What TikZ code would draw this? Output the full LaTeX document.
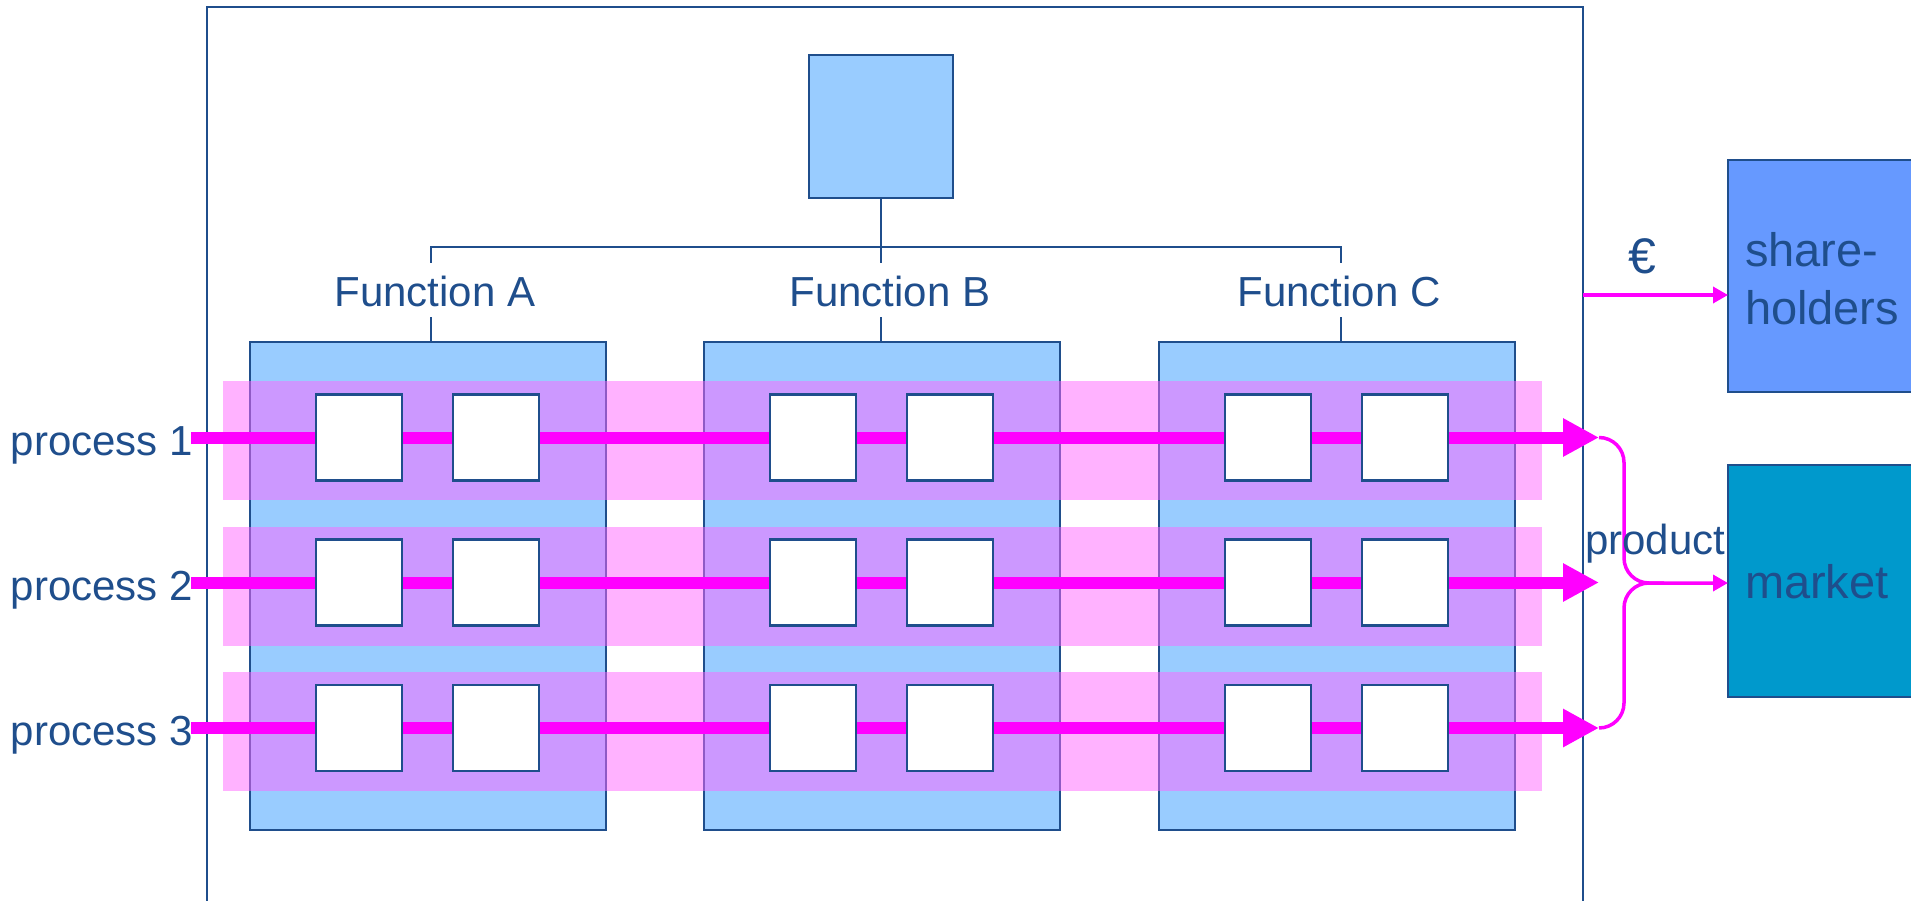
\documentclass[tikz,border=0pt]{standalone}
\usepackage{fontspec}
\setmainfont{Liberation Sans}
\usetikzlibrary{arrows.meta}
\definecolor{ink}{HTML}{1F4E8C}
\definecolor{fnblue}{HTML}{99CCFF}
\definecolor{bandpink}{HTML}{FF66FF}
\definecolor{flowpink}{HTML}{FF00FF}
\definecolor{shblue}{HTML}{6699FF}
\definecolor{mkblue}{HTML}{0099CC}
\begin{document}
\begin{tikzpicture}[x=1pt,y=-1pt,
  every node/.style={inner sep=0pt, outer sep=0pt},
  frame/.style={draw=ink, line width=2pt},
  headbox/.style={draw=ink, line width=2.5pt, fill=fnblue},
  fnbox/.style={draw=ink, line width=2.5pt, fill=fnblue, minimum width=356pt, minimum height=488pt},
  band/.style={fill=bandpink, fill opacity=0.5, minimum width=1319pt, minimum height=119pt},
  flow/.style={draw=flowpink, line width=12pt, -{Triangle[length=36pt,width=36pt]}},
  task/.style={draw=ink, fill=white, line width=2.5pt, minimum width=86pt, minimum height=86pt},
  conn/.style={draw=ink, line width=2pt},
  lbl/.style={text=ink, font=\fontsize{42pt}{50pt}\selectfont},
  big/.style={text=ink, font=\fontsize{47pt}{58pt}\selectfont},
  link/.style={draw=flowpink, line width=3.5pt},
  linkarrow/.style={link, -{Triangle[length=15pt,width=16pt]}}]
\useasboundingbox (0,0) rectangle (1911,901);

% company frame (open at the bottom)
\node[frame, minimum width=1376pt, minimum height=898pt] (frame) at (895,456) {};

% head of the organisation
\node[headbox, minimum width=144pt, minimum height=143pt] (top) at (881,126.5) {};

% function labels
\node[lbl, anchor=base] (la) at (435,306) {Function A};
\node[lbl, anchor=base] (lb) at (890,306) {Function B};
\node[lbl, anchor=base] (lc) at (1339,306) {Function C};

% function columns
\node[fnbox] (fA) at (428,586) {};
\node[fnbox] (fB) at (882,586) {};
\node[fnbox] (fC) at (1337,586) {};

% organisation chart connectors
\coordinate (busA) at (431,247);
\coordinate (busB) at (881,247);
\coordinate (busC) at (1341,247);
\draw[conn] (top.south) -- (top.south |- 0,263);
\draw[conn] (busA |- 0,263) -- (busA) -- (busC) -- (busC |- 0,263);
\draw[conn] (busA |- 0,317) -- (busA |- fA.north);
\draw[conn] (busB |- 0,317) -- (busB |- fB.north);
\draw[conn] (busC |- 0,317) -- (busC |- fC.north);

% process bands across the functions
\node[band] (band1) at (882.5,440.5) {};
\node[band] (band2) at (882.5,586.5) {};
\node[band] (band3) at (882.5,731.5) {};

% processes with their tasks
\foreach \r/\y in {1/437.5, 2/582.5, 3/728} {
  \coordinate (in\r) at (191,\y);
  \coordinate (out\r) at (1599,\y);
  \node[lbl, anchor=base east] (p\r) at (193,\y+17.5) {process \r};
  \draw[flow] (in\r) -- (out\r);
  \foreach \f/\x in {A/250, B/704, C/1159} {
    \node[task] (t\f\r a) at (\x+109,\y) {};
    \node[task] (t\f\r b) at (\x+246,\y) {};
  }
}

% stakeholders
\node[draw=ink, line width=2pt, fill=shblue, minimum width=200pt, minimum height=232pt, anchor=north west] (sh) at (1728,160) {};
\node[big, anchor=base west] (sh1) at (1745,267) {share-};
\node[big, anchor=base west] (sh2) at (1745,324) {holders};
\node[draw=ink, line width=2pt, fill=mkblue, minimum width=200pt, minimum height=232pt, anchor=north west] (mk) at (1728,465) {};
\node[big, anchor=base west] (mk1) at (1745,598) {market};

% money to the shareholders
\coordinate (cash) at (1583,295);
\draw[linkarrow] (cash) -- (cash -| sh.west);
\node[text=ink, font=\fontsize{50pt}{60pt}\selectfont, anchor=base] (eur) at (1642,274) {€};

% products gathered towards the market
\coordinate (join) at (1624,583);
\draw[linkarrow, rounded corners=25pt] (out1) -- (out1 -| join) -- (join) -- (join -| mk.west);
\draw[link, rounded corners=25pt] (out3) -- (out3 -| join) -- (join) -- ++(40,0);
\node[lbl, anchor=base west] (prod) at (1585,554) {product};
\end{tikzpicture}
\end{document}
